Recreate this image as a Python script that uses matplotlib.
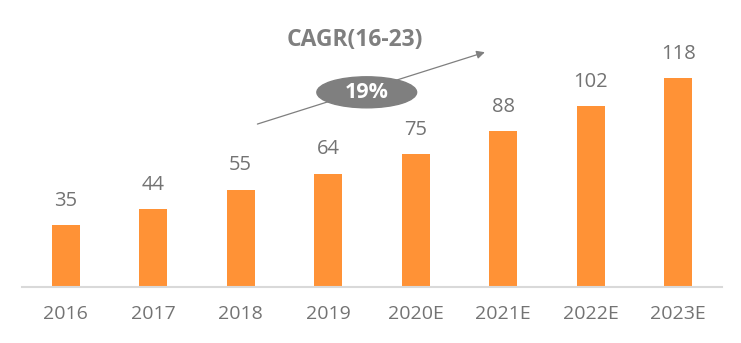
import matplotlib
matplotlib.use('Agg')
import matplotlib.pyplot as plt
from matplotlib.patches import Ellipse

plt.rcParams['font.family'] = ['Open Sans', 'DejaVu Sans']

years = ['2016', '2017', '2018', '2019', '2020E', '2021E', '2022E', '2023E']
values = [35, 44, 55, 64, 75, 88, 102, 118]
cagr_label = 'CAGR(16-23)'
cagr_value = '19%'

fig = plt.figure(figsize=(7.41, 3.43), dpi=100)
ax = fig.add_axes([22 / 741, 56 / 343, 700 / 741, 287 / 343])

x = range(len(years))
ax.bar(x, values, width=0.32, color='#FF9236', zorder=2)
for xi, v in zip(x, values):
    ax.text(xi, v + 8, str(v), ha='center', va='bottom', fontsize=14.5, color='#737373')

ax.set_xlim(-0.5, len(years) - 0.5)
ax.set_ylim(0, 162)
ax.set_xticks(list(x))
ax.set_xticklabels(years, fontsize=14, color='#737373')
ax.tick_params(axis='x', length=0, pad=13)
ax.set_yticks([])
for s in ['top', 'right', 'left']:
    ax.spines[s].set_visible(False)
ax.spines['bottom'].set_color('#D9D9D9')
ax.spines['bottom'].set_linewidth(1.5)

# CAGR arrow and label
ax.annotate('', xy=(4.82, 133.0), xytext=(2.16, 91.5),
            arrowprops=dict(arrowstyle='-|>', color='#7F7F7F', lw=0.9, mutation_scale=12))
ax.add_patch(Ellipse((3.44, 109.9), 1.14, 17.5, color='#7F7F7F', zorder=3))
ax.text(3.44, 109.9, cagr_value, ha='center', va='center', fontsize=15.5, fontweight='bold',
        color='white', zorder=4)
ax.text(3.30, 139.5, cagr_label, ha='center', va='center', fontsize=16.5, fontweight='bold',
        color='#7F7F7F')

fig.savefig('out.png', dpi=100)
